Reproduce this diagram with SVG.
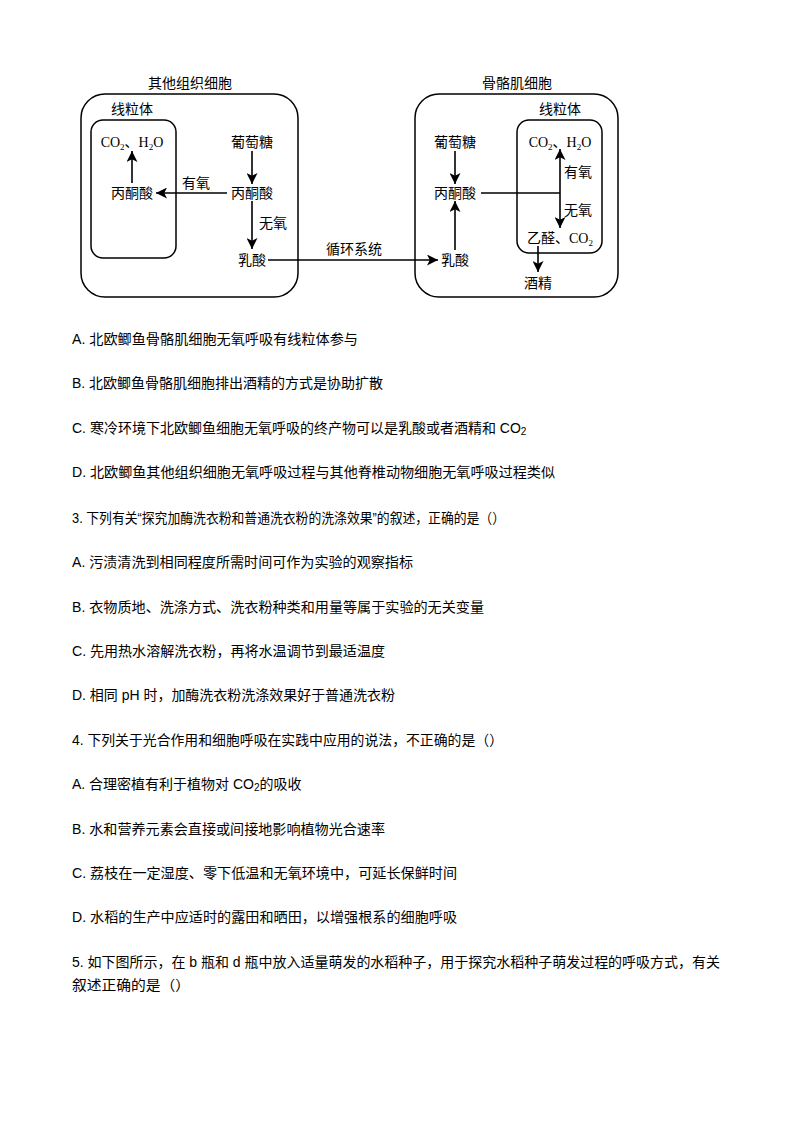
<svg xmlns="http://www.w3.org/2000/svg" width="794" height="1123" viewBox="0 0 794 1123">
<style>
.box{fill:none;stroke:#000;stroke-width:1.5}
.ln{fill:none;stroke:#000;stroke-width:1.6}
.ar{fill:none;stroke:#000;stroke-width:1.6;marker-end:url(#ah)}
.d{font-family:"Liberation Serif","Noto Sans CJK SC",serif;font-size:14px;fill:#000;text-anchor:middle}
.t{font-family:"Liberation Sans","Noto Sans CJK SC",sans-serif;font-size:14px;fill:#000}
</style>
<defs>
<marker id="ah" viewBox="0 0 10 10" refX="10" refY="5" markerWidth="11" markerHeight="11" markerUnits="userSpaceOnUse" orient="auto">
<path d="M0,0 L10,5 L0,10 L2.5,5 Z" fill="#000"/>
</marker>
</defs>
<rect width="794" height="1123" fill="#fff"/>

<g id="left-cell">
<rect class="box" x="81" y="94" width="217" height="203" rx="24"/>
<text class="d" x="190" y="88">其他组织细胞</text>
</g>
<g id="left-mito">
<rect class="box" x="91" y="120" width="85" height="138" rx="12"/>
<text class="d" x="132" y="114">线粒体</text>
</g>
<g id="l-co2"><text class="d" x="132" y="147">CO<tspan font-size="9" dy="3">2</tspan><tspan dy="-3">、H</tspan><tspan font-size="9" dy="3">2</tspan><tspan dy="-3">O</tspan></text></g>
<g id="l-pyr-mito"><text class="d" x="132" y="198">丙酮酸</text></g>
<g id="l-glucose"><text class="d" x="252" y="147">葡萄糖</text></g>
<g id="l-pyr"><text class="d" x="252" y="198">丙酮酸</text></g>
<g id="l-lactate"><text class="d" x="252" y="265">乳酸</text></g>

<g id="right-cell">
<rect class="box" x="415" y="94" width="203" height="203" rx="24"/>
<text class="d" x="517" y="88">骨骼肌细胞</text>
</g>
<g id="right-mito">
<rect class="box" x="517" y="120" width="85" height="133" rx="12"/>
<text class="d" x="560" y="114">线粒体</text>
</g>
<g id="r-glucose"><text class="d" x="455" y="147">葡萄糖</text></g>
<g id="r-pyr"><text class="d" x="455" y="198">丙酮酸</text></g>
<g id="r-lactate"><text class="d" x="455" y="265">乳酸</text></g>
<g id="r-co2"><text class="d" x="560" y="147">CO<tspan font-size="9" dy="3">2</tspan><tspan dy="-3">、H</tspan><tspan font-size="9" dy="3">2</tspan><tspan dy="-3">O</tspan></text></g>
<g id="r-acet"><text class="d" x="560" y="243">乙醛、CO<tspan font-size="9" dy="3">2</tspan></text></g>
<g id="r-ethanol"><text class="d" x="538" y="288">酒精</text></g>

<g id="connectors">
<line class="ar" x1="132" y1="183" x2="132" y2="151"/>
<line class="ar" x1="252" y1="151" x2="252" y2="184"/>
<line class="ar" x1="227" y1="193" x2="156" y2="193"/>
<text class="d" x="196" y="188">有氧</text>
<line class="ar" x1="252" y1="201" x2="252" y2="249"/>
<text class="d" x="273" y="228">无氧</text>
<line class="ar" x1="268" y1="260" x2="438" y2="260"/>
<text class="d" x="354" y="254">循环系统</text>
<line class="ar" x1="455" y1="151" x2="455" y2="184"/>
<line class="ar" x1="455" y1="250" x2="455" y2="201"/>
<line class="ln" x1="481" y1="193" x2="560" y2="193"/>
<line class="ar" x1="560" y1="193" x2="560" y2="149"/>
<line class="ar" x1="560" y1="193" x2="560" y2="228"/>
<text class="d" x="578" y="177">有氧</text>
<text class="d" x="578" y="215">无氧</text>
<line class="ar" x1="538" y1="246" x2="538" y2="272"/>
</g>

<g id="text">
<text class="t" x="72" y="344" textLength="286" lengthAdjust="spacingAndGlyphs">A. 北欧鲫鱼骨骼肌细胞无氧呼吸有线粒体参与</text>
<text class="t" x="72" y="388" textLength="311" lengthAdjust="spacingAndGlyphs">B. 北欧鲫鱼骨骼肌细胞排出酒精的方式是协助扩散</text>
<text class="t" x="72" y="433">C. 寒冷环境下北欧鲫鱼细胞无氧呼吸的终产物可以是乳酸或者酒精和 CO<tspan font-size="10" dy="2">2</tspan></text>
<text class="t" x="72" y="477" textLength="483" lengthAdjust="spacingAndGlyphs">D. 北欧鲫鱼其他组织细胞无氧呼吸过程与其他脊椎动物细胞无氧呼吸过程类似</text>
<text class="t" x="72" y="523" textLength="433" lengthAdjust="spacingAndGlyphs">3. 下列有关“探究加酶洗衣粉和普通洗衣粉的洗涤效果”的叙述，正确的是（）</text>
<text class="t" x="72" y="567" textLength="341" lengthAdjust="spacingAndGlyphs">A. 污渍清洗到相同程度所需时间可作为实验的观察指标</text>
<text class="t" x="72" y="612" textLength="412" lengthAdjust="spacingAndGlyphs">B. 衣物质地、洗涤方式、洗衣粉种类和用量等属于实验的无关变量</text>
<text class="t" x="72" y="656" textLength="313" lengthAdjust="spacingAndGlyphs">C. 先用热水溶解洗衣粉，再将水温调节到最适温度</text>
<text class="t" x="72" y="700" textLength="323" lengthAdjust="spacingAndGlyphs">D. 相同 pH 时，加酶洗衣粉洗涤效果好于普通洗衣粉</text>
<text class="t" x="72" y="745" textLength="431" lengthAdjust="spacingAndGlyphs">4. 下列关于光合作用和细胞呼吸在实践中应用的说法，不正确的是（）</text>
<text class="t" x="72" y="789">A. 合理密植有利于植物对 CO<tspan font-size="10" dy="2">2</tspan><tspan dy="-2">的吸收</tspan></text>
<text class="t" x="72" y="834" textLength="313" lengthAdjust="spacingAndGlyphs">B. 水和营养元素会直接或间接地影响植物光合速率</text>
<text class="t" x="72" y="878" textLength="385" lengthAdjust="spacingAndGlyphs">C. 荔枝在一定湿度、零下低温和无氧环境中，可延长保鲜时间</text>
<text class="t" x="72" y="922" textLength="385" lengthAdjust="spacingAndGlyphs">D. 水稻的生产中应适时的露田和晒田，以增强根系的细胞呼吸</text>
<text class="t" x="72" y="967" textLength="648" lengthAdjust="spacingAndGlyphs">5. 如下图所示，在 b 瓶和 d 瓶中放入适量萌发的水稻种子，用于探究水稻种子萌发过程的呼吸方式，有关</text>
<text class="t" x="72" y="990" textLength="118" lengthAdjust="spacingAndGlyphs">叙述正确的是（）</text>
</g>
</svg>
